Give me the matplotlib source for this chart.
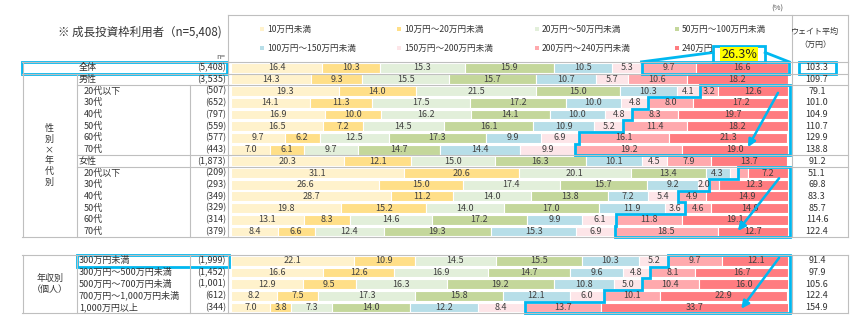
import numpy as np
import matplotlib
matplotlib.use("Agg")
import matplotlib.pyplot as plt
from matplotlib.patches import Rectangle, Polygon
from matplotlib.transforms import blended_transform_factory

plt.rcParams["font.family"] = ["Noto Sans CJK JP", "DejaVu Sans"]

# ── データ ────────────────────────────────────────────────────────────────
CATEGORIES = ["10万円未満", "10万円～20万円未満", "20万円～50万円未満", "50万円～100万円未満",
              "100万円～150万円未満", "150万円～200万円未満", "200万円～240万円未満", "240万円"]
COLORS = ["#FFF2CC", "#FFDF88", "#E2EFDA", "#C4D79B",
          "#B7DEE8", "#FDE5E8", "#FFA9AD", "#FF7C80"]

ROW_LABELS = ["全体", "男性", "20代以下", "30代", "40代", "50代", "60代", "70代",
              "女性", "20代以下", "30代", "40代", "50代", "60代", "70代",
              "300万円未満", "300万円～500万円未満", "500万円～700万円未満",
              "700万円～1,000万円未満", "1,000万円以上"]
ROW_N = ["(5,408)", "(3,535)", "(507)", "(652)", "(797)", "(559)", "(577)", "(443)",
         "(1,873)", "(209)", "(293)", "(349)", "(329)", "(314)", "(379)",
         "(1,999)", "(1,452)", "(1,001)", "(612)", "(344)"]
VALUES = [
    [16.4, 10.3, 15.3, 15.9, 10.5, 5.3, 9.7, 16.6],
    [14.3, 9.3, 15.5, 15.7, 10.7, 5.7, 10.6, 18.2],
    [19.3, 14.0, 21.5, 15.0, 10.3, 4.1, 3.2, 12.6],
    [14.1, 11.3, 17.5, 17.2, 10.0, 4.8, 8.0, 17.2],
    [16.9, 10.0, 16.2, 14.1, 10.0, 4.8, 8.3, 19.7],
    [16.5, 7.2, 14.5, 16.1, 10.9, 5.2, 11.4, 18.2],
    [9.7, 6.2, 12.5, 17.3, 9.9, 6.9, 16.1, 21.3],
    [7.0, 6.1, 9.7, 14.7, 14.4, 9.9, 19.2, 19.0],
    [20.3, 12.1, 15.0, 16.3, 10.1, 4.5, 7.9, 13.7],
    [31.1, 20.6, 20.1, 13.4, 4.3, 1.5, 1.8, 7.2],
    [26.6, 15.0, 17.4, 15.7, 9.2, 2.0, 1.8, 12.3],
    [28.7, 11.2, 14.0, 13.8, 7.2, 5.4, 4.9, 14.9],
    [19.8, 15.2, 14.0, 17.0, 11.9, 3.6, 4.6, 14.0],
    [13.1, 8.3, 14.6, 17.2, 9.9, 6.1, 11.8, 19.1],
    [8.4, 6.6, 12.4, 19.3, 15.3, 6.9, 18.5, 12.7],
    [22.1, 10.9, 14.5, 15.5, 10.3, 5.2, 9.7, 12.1],
    [16.6, 12.6, 16.9, 14.7, 9.6, 4.8, 8.1, 16.7],
    [12.9, 9.5, 16.3, 19.2, 10.8, 5.0, 10.4, 16.0],
    [8.2, 7.5, 17.3, 15.8, 12.1, 6.0, 10.1, 22.9],
    [7.0, 3.8, 7.3, 14.0, 12.2, 8.4, 13.7, 33.7],
]
WEIGHTED_AVG = ["103.3", "109.7", "79.1", "101.0", "104.9", "110.7", "129.9", "138.8",
                "91.2", "51.1", "69.8", "83.3", "85.7", "114.6", "122.4",
                "91.4", "97.9", "105.6", "122.4", "154.9"]
CALLOUT = "26.3%"

# 行の縦位置（年収別ブロックの前に空き）
Y_POS = list(range(15)) + [16.5 + j for j in range(5)]
INDENT = {2, 3, 4, 5, 6, 7, 9, 10, 11, 12, 13, 14}

W, H = 850, 324
CYAN = "#00B8F0"
GRID = "#BFBFBF"
TXT = "#404040"


def fx(px):
    return px / W


def fy(py):
    return 1 - py / H


fig = plt.figure(figsize=(W / 100, H / 100), dpi=100)
ax = fig.add_axes([fx(231), fy(313.4), fx(788) - fx(231), fy(61.85) - fy(313.4)])
ax.set_xlim(0, 100)
ax.set_ylim(21, -0.5)
ax.axis("off")

vals = np.array(VALUES)
lefts = np.hstack([np.zeros((len(vals), 1)), np.cumsum(vals, axis=1)[:, :-1]])

for k, cat in enumerate(CATEGORIES):
    ax.barh(Y_POS, vals[:, k], left=lefts[:, k], height=0.84, color=COLORS[k],
            edgecolor="white", linewidth=0.8)
    for i, y in enumerate(Y_POS):
        v = vals[i, k]
        if v >= 2.0:
            ax.text(lefts[i, k] + v / 2, y, f"{v:.1f}", ha="center", va="center",
                    fontsize=6.5, color=TXT)

# ── 表の罫線・ラベル ───────────────────────────────────────────────────────
bt = blended_transform_factory(fig.transFigure, ax.transData)


def hline(y, x0, x1):
    fig.add_artist(plt.Line2D([fx(x0), fx(x1)], [y, y], transform=bt, color=GRID, lw=0.8))


def vline(x, y0, y1):
    fig.add_artist(plt.Line2D([fx(x), fx(x)], [y0, y1], transform=bt, color=GRID, lw=0.8))


for y, x0 in [(-0.5, 22), (0.5, 22), (1.5, 77), (7.5, 77), (8.5, 77),
              (14.5, 22), (16, 22), (21, 22)]:
    hline(y, x0, 848)
for x, y0, y1 in [(22.5, -0.5, 14.5), (77, 0.5, 14.5), (190, 1.5, 14.5)]:
    vline(x, y0, y1)
for x in [22.5, 77, 190, 227.7, 792, 848]:
    vline(x, 16, 21)
for x in [227.7, 792, 848]:
    vline(x, -0.5, 14.5)
    fig.add_artist(plt.Line2D([fx(x), fx(x)], [fy(15), fy(61.85)],
                              transform=fig.transFigure, color=GRID, lw=0.8))
fig.add_artist(plt.Line2D([fx(227.7), fx(848)], [fy(15), fy(15)],
                          transform=fig.transFigure, color=GRID, lw=0.8))

for i, y in enumerate(Y_POS):
    x_lab = 84 if i in INDENT else 79
    fig.text(fx(x_lab), 0, ROW_LABELS[i], transform=bt, ha="left", va="center",
             fontsize=6.5, color="#333333").set_y(y)
    fig.text(fx(226), 0, ROW_N[i], transform=bt, ha="right", va="center",
             fontsize=6.5, color="#333333").set_y(y)
    fig.text(fx(817), 0, WEIGHTED_AVG[i], transform=bt, ha="center", va="center",
             fontsize=6.5, color="#333333").set_y(y)

fig.text(fx(49), 0, "性\n別\n×\n年\n代\n別", transform=bt, ha="center", va="center",
         fontsize=6.5, color="#333333", linespacing=1.25).set_y(7.5)
fig.text(fx(50), 0, "年収別\n（個人）", transform=bt, ha="center", va="center",
         fontsize=6.5, color="#333333", linespacing=1.3).set_y(18.5)

fig.text(fx(140), fy(32), "※ 成長投資枠利用者（n=5,408)", ha="center", va="center",
         fontsize=8.3, color="#333333")
fig.text(fx(221), fy(57), "n=", ha="center", va="center", fontsize=5.5, color="#555555")
fig.text(fx(777), fy(9), "(%)", ha="center", va="center", fontsize=5.5, color="#555555")
fig.text(fx(815), fy(38), "ウェイト平均\n（万円）", ha="center", va="center",
         fontsize=5.8, color="#333333", linespacing=1.5)

# ── 凡例 ──────────────────────────────────────────────────────────────────
leg_x = [262, 399, 537, 677]
leg_y = [29, 48]
for k, cat in enumerate(CATEGORIES):
    px, py = leg_x[k % 4], leg_y[k // 4]
    fig.add_artist(Rectangle((fx(px - 2), fy(py + 2)), fx(4), 4 / H,
                             transform=fig.transFigure, color=COLORS[k], lw=0))
    fig.text(fx(px + 5), fy(py), cat, ha="left", va="center", fontsize=6.2, color="#333333")

# ── 強調（枠・矢印） ────────────────────────────────────────────────────────
def staircase(rows):
    ys = [Y_POS[r] for r in rows]
    xs = [lefts[r, 6] for r in rows]
    pts = [(100.3, ys[0] - 0.5)]
    for x, y in zip(xs, ys):
        pts += [(x, y - 0.5), (x, y + 0.5)]
    pts.append((100.3, ys[-1] + 0.5))
    ax.add_patch(Polygon(pts, closed=True, fill=False, edgecolor=CYAN, lw=2.0,
                         clip_on=False, joinstyle="miter"))


staircase(range(2, 8))
staircase(range(9, 15))
staircase(range(15, 20))

arrow_kw = dict(arrowstyle="-|>,head_length=0.45,head_width=0.22", color=CYAN, lw=1.8,
                shrinkA=0, shrinkB=0)
for (x0, y0), (x1, y1) in [((98.2, 2.15), (92.8, 6.8)),
                           ((98.4, 9.45), (91.0, 13.95)),
                           ((98.4, 16.25), (91.6, 20.6))]:
    ax.annotate("", xy=(x1, y1), xytext=(x0, y0), arrowprops=arrow_kw,
                annotation_clip=False)

# 全体：200万円以上の合計
ax.add_patch(Rectangle((lefts[0, 6], -0.5), 100.2 - lefts[0, 6], 1.0, fill=False,
                       edgecolor=CYAN, lw=2.0, clip_on=False))
ax.plot([lefts[0, 6], 86.5], [-0.5, -1.3], color=CYAN, lw=2.0, clip_on=False)
ax.plot([100.2, 95.9], [-0.5, -1.3], color=CYAN, lw=2.0, clip_on=False)
ax.add_patch(Rectangle((86.5, -1.85), 9.4, 1.35, facecolor="white", edgecolor=CYAN,
                       lw=2.0, clip_on=False))
ax.text(91.2, -1.15, CALLOUT, ha="center", va="center", fontsize=9, color="#222222",
        bbox=dict(boxstyle="square,pad=0.05", facecolor="#FFFF00", edgecolor="none"))

# ラベル側の枠
for r, x0, x1 in [(0, 22, 227), (15, 77, 229)]:
    fig.add_artist(Rectangle((fx(x0), Y_POS[r] - 0.5), fx(x1) - fx(x0), 1.0,
                             transform=bt, fill=False, edgecolor=CYAN, lw=2.0))
fig.add_artist(Rectangle((fx(799), -0.5), fx(836) - fx(799), 1.0,
                         transform=bt, fill=False, edgecolor=CYAN, lw=2.0))

fig.savefig("out.png", dpi=100, facecolor="white")
